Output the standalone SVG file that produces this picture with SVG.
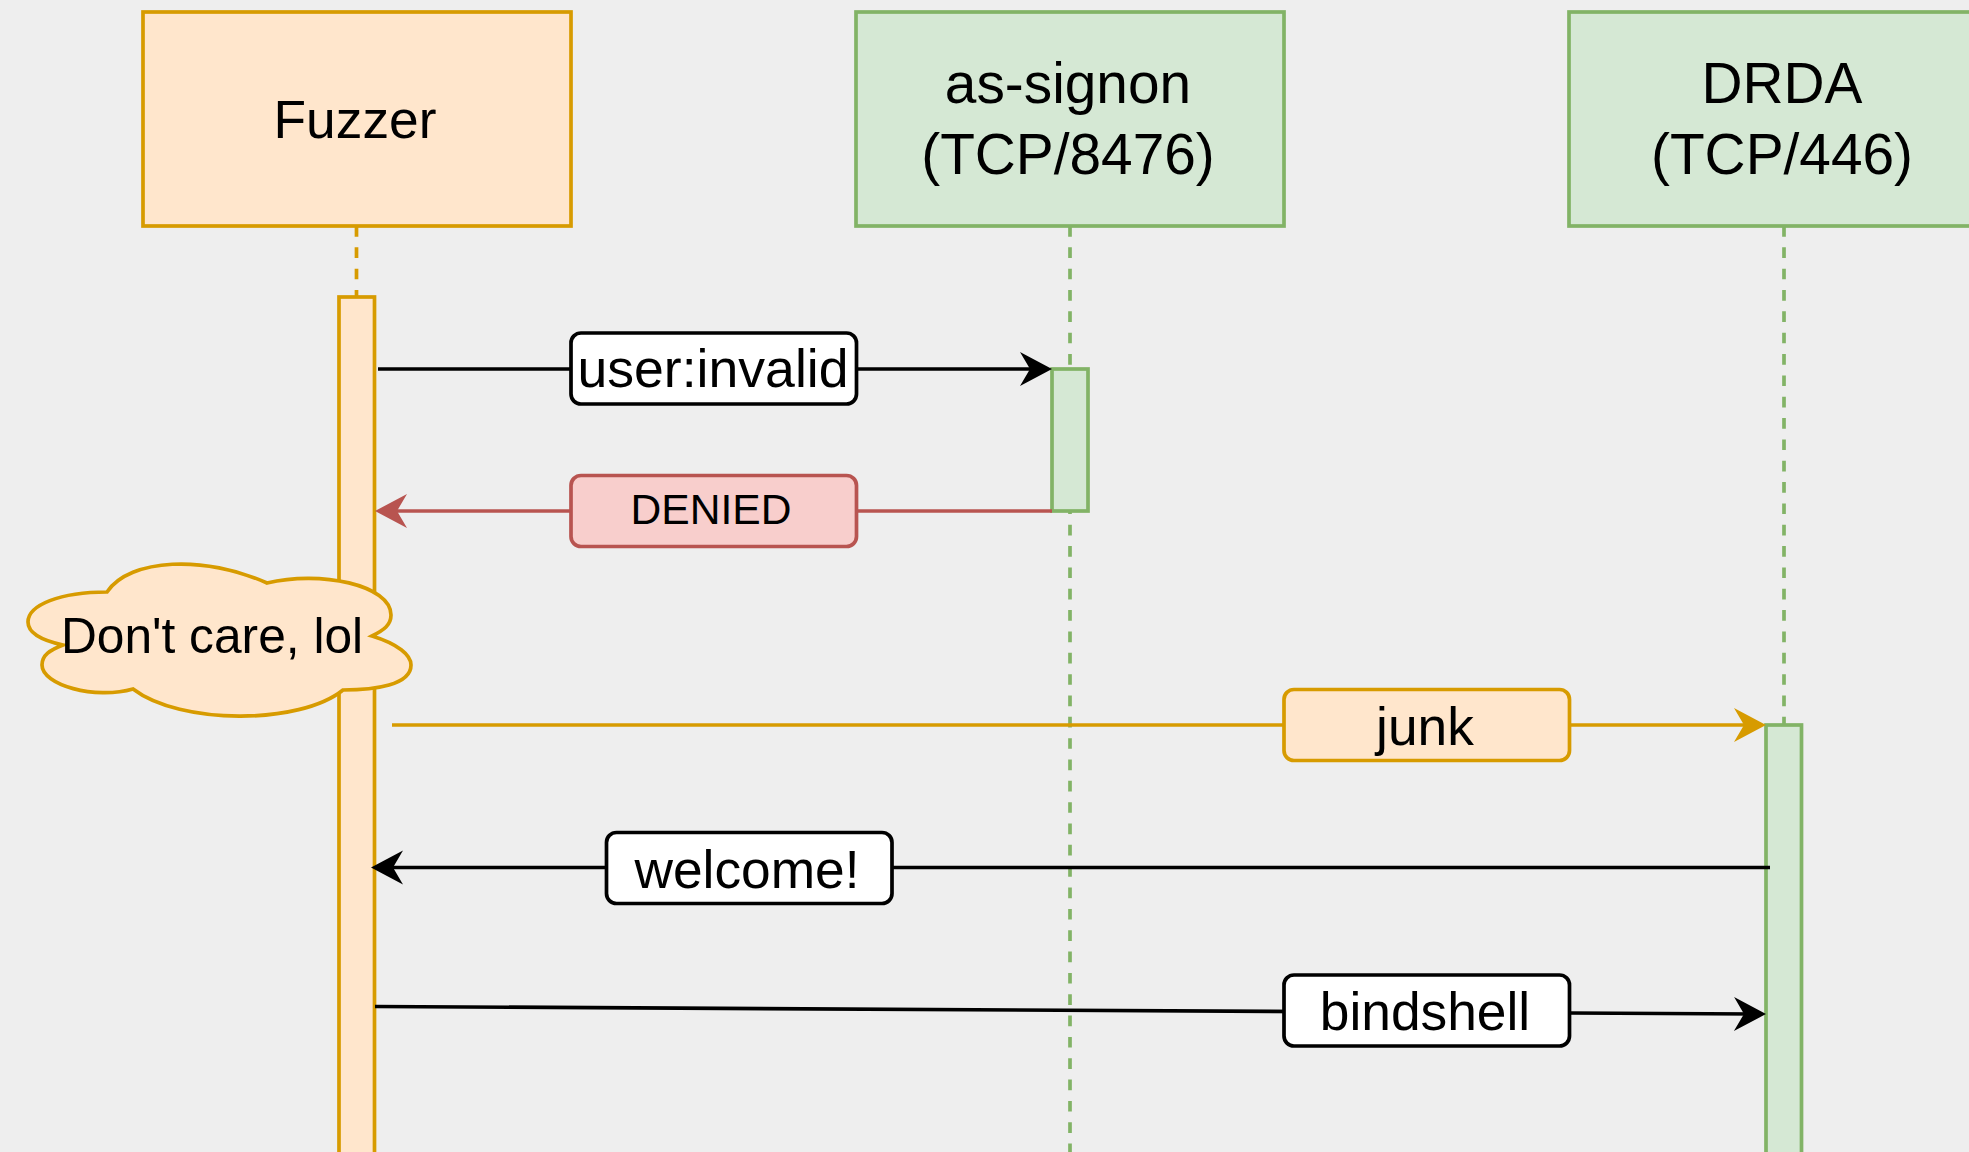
<svg xmlns="http://www.w3.org/2000/svg" width="1969" height="1152" viewBox="0 0 1969 1152">
<style>
text{font-family:"Liberation Sans",Arial,sans-serif;font-size:53.3px;fill:#000;text-anchor:middle}
.big{font-size:56.800px}
.o{fill:#ffe6cc;stroke:#d79b00;stroke-width:3.700}
.g{fill:#d5e8d4;stroke:#82b366;stroke-width:3.700}
.r{fill:#f8cecc;stroke:#b85450;stroke-width:3.700}
.w{fill:#fff;stroke:#000;stroke-width:3.700}
.ll{fill:none;stroke-width:3.700;stroke-dasharray:10.67 10.67}
.c{fill:none;stroke-width:3.700}
marker{overflow:visible}
</style>
<defs>
<marker id="ak" markerUnits="userSpaceOnUse" markerWidth="34" markerHeight="34" refX="20" refY="16" orient="auto" viewBox="0 0 34 32"><path d="M32 16L0 -1L10 16L0 33Z" fill="#000"/></marker>
<marker id="ao" markerUnits="userSpaceOnUse" markerWidth="34" markerHeight="34" refX="20" refY="16" orient="auto" viewBox="0 0 34 32"><path d="M32 16L0 -1L10 16L0 33Z" fill="#d79b00"/></marker>
<marker id="ar" markerUnits="userSpaceOnUse" markerWidth="34" markerHeight="34" refX="20" refY="16" orient="auto" viewBox="0 0 34 32"><path d="M32 16L0 -1L10 16L0 33Z" fill="#b85450"/></marker>
</defs>
<rect width="1969" height="1152" fill="#eeeeee"/>
<g id="lifelines">
<path class="ll" stroke="#d79b00" d="M356.500 226V297"/>
<path class="ll" stroke="#82b366" d="M1070 226V1152"/>
<path class="ll" stroke="#82b366" d="M1784 226V725"/>
</g>
<g id="fuzzer"><rect class="o" x="143" y="12" width="428" height="214"/><text x="355" y="138">Fuzzer</text></g>
<g id="as-signon"><rect class="g" x="856" y="12" width="428" height="214"/><text class="big" x="1068" y="103">as-signon</text><text class="big" x="1068" y="174">(TCP/8476)</text></g>
<g id="drda"><rect class="g" x="1569" y="12" width="428" height="214"/><text class="big" x="1782" y="103">DRDA</text><text class="big" x="1782" y="174">(TCP/446)</text></g>
<g id="fuzzer-activation"><rect class="o" x="339" y="297" width="35.500" height="880"/></g>
<g id="as-signon-activation"><rect class="g" x="1052" y="369" width="36" height="142"/></g>
<g id="drda-activation"><rect class="g" x="1766" y="725" width="35.500" height="450"/></g>
<g id="connectors">
<path class="c" stroke="#000" d="M378 369H1040" marker-end="url(#ak)"/>
<path class="c" stroke="#b85450" d="M1052 511H387" marker-end="url(#ar)"/>
<path class="c" stroke="#d79b00" d="M392 725H1754" marker-end="url(#ao)"/>
<path class="c" stroke="#000" d="M1770 867.500H383" marker-end="url(#ak)"/>
<path class="c" stroke="#000" d="M375 1006.500L1754 1014" marker-end="url(#ak)"/>
</g>
<g id="label-user"><rect class="w" x="571" y="333" width="285.500" height="71" rx="10"/><text x="713" y="387" style="font-size:53.600px">user:invalid</text></g>
<g id="label-denied"><rect class="r" x="571" y="475.500" width="285.500" height="71" rx="10"/><text x="711" y="523.500" style="font-size:42.600px">DENIED</text></g>
<g id="label-junk"><rect class="o" x="1284" y="689.500" width="285.500" height="71" rx="10"/><text x="1425" y="745">junk</text></g>
<g id="label-welcome"><rect class="w" x="606.500" y="832.500" width="285.500" height="71" rx="10"/><text x="747" y="888">welcome!</text></g>
<g id="label-bindshell"><rect class="w" x="1284" y="975" width="285.500" height="71" rx="10"/><text x="1425" y="1030">bindshell</text></g>
<g id="cloud"><path class="o" d="M107 592C130 558 205 555 267 583C320 570 391 585 391 615C391 625 384 630 372 636C398 644 411 655 411 665C411 685 375 690 343 690C300 725 180 725 133 689C95 700 42 685 42 665C42 655 50 650 63 645C40 640 28 632 28 622C28 605 60 592 107 592Z"/><text x="212" y="652.500" style="font-size:49.700px">Don't care, lol</text></g>
</svg>
